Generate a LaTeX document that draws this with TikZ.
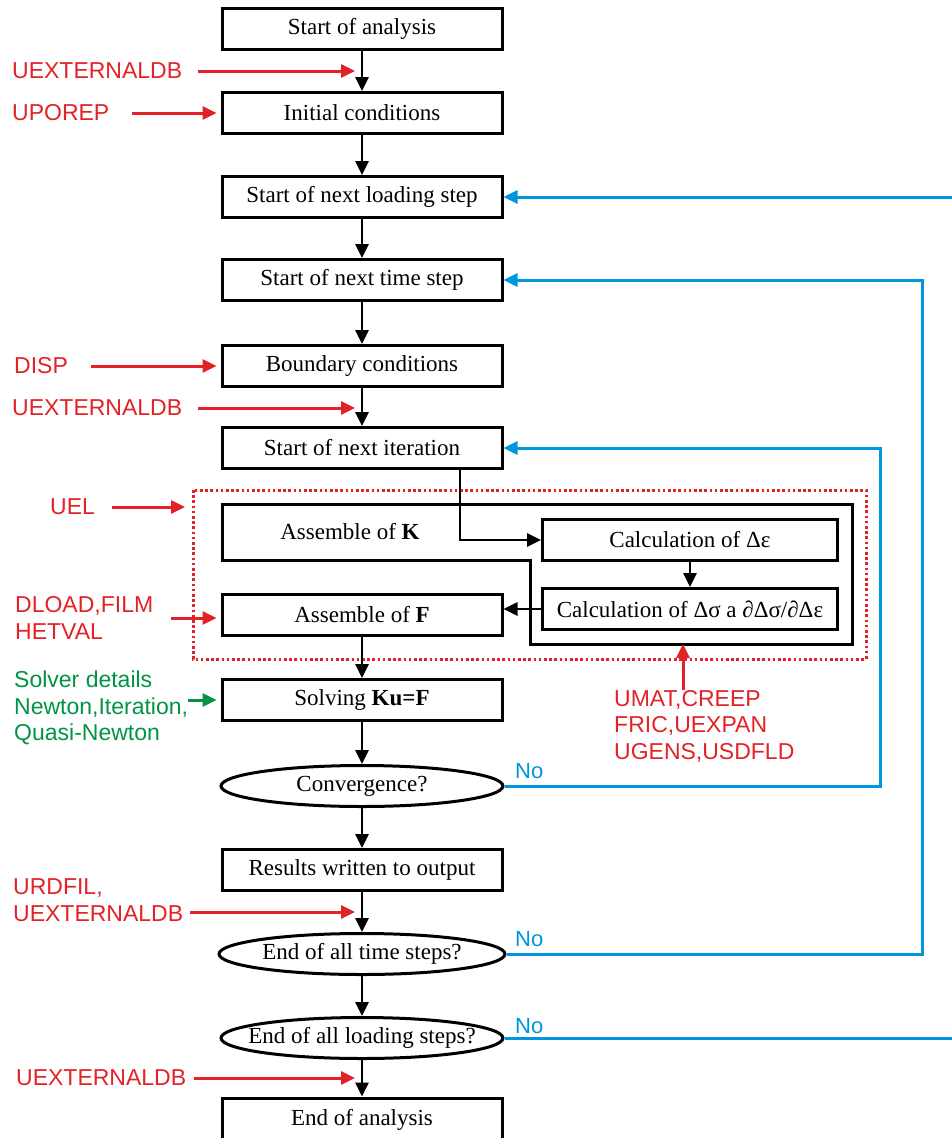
\documentclass[tikz,border=0pt]{standalone}
\usepackage{fontspec}
\setmainfont{Liberation Serif}
\setsansfont{Liberation Sans}
\usetikzlibrary{positioning, shapes.geometric, arrows.meta, calc}

\definecolor{hookred}{RGB}{226,34,38}
\definecolor{loopblue}{RGB}{0,150,221}
\definecolor{solvgreen}{RGB}{0,148,68}

\newcommand{\boxfont}{\fontsize{23}{26}\selectfont}
\newcommand{\hookfont}{\sffamily\fontsize{23}{26.5}\selectfont}

\tikzset{
  stepbox/.style={draw, line width=3pt, minimum width=280pt, minimum height=41pt, inner sep=0pt},
  calcbox/.style={stepbox, minimum width=295pt},
  decision/.style={ellipse, draw, line width=3pt, minimum width=282pt, minimum height=41pt, inner sep=0pt},
  flow/.style={draw, line width=2.6pt, -{Triangle[length=14pt,width=13pt]}},
  hook/.style={text=hookred, font=\hookfont, anchor=west, align=left, inner sep=0pt},
  hookarrow/.style={draw=hookred, line width=3pt, -{Triangle[length=14pt,width=13pt]}},
  greenarrow/.style={hookarrow, draw=solvgreen},
  backflow/.style={draw=loopblue, line width=3pt, -{Triangle[length=14pt,width=13pt]}},
  nolabel/.style={text=loopblue, font=\sffamily\fontsize{22}{24}\selectfont, anchor=west, inner sep=0pt},
  userframe/.style={draw=hookred, line width=3pt, dash pattern=on 2.6pt off 2.6pt}
}

\begin{document}
\begin{tikzpicture}[x=1pt, y=-1pt, font=\boxfont]
  \useasboundingbox (0,0) rectangle (952,1138);

  % main column
  \node (sa) [stepbox] at (362,29) {Start of analysis};
  \node (ic) [stepbox] at (362,113) {Initial conditions};
  \node (nls) [stepbox] at (362,197) {Start of next loading step};
  \node (nts) [stepbox] at (362,280) {Start of next time step};
  \node (bc) [stepbox] at (362,366) {Boundary conditions};
  \node (nit) [stepbox] at (362,448) {Start of next iteration};
  \node (ak) at (350,532) {Assemble of \textbf{K}};
  \node (cde) [calcbox] at (690,540) {Calculation of Δε};
  \node (cds) [calcbox] at (690,609) {Calculation of Δσ a ∂Δσ/∂Δε};
  \node (af) [stepbox] at (362,615) {Assemble of \textbf{F}};
  \node (sol) [stepbox] at (362,700) {Solving \textbf{Ku=F}};
  \node (conv) [decision, label={[name=convt]center:Convergence?}] at (362,786) {};
  \node (res) [stepbox] at (362,870) {Results written to output};
  \node (ets) [decision, minimum width=286pt, label={[name=etst]center:End of all time steps?}] at (362,954) {};
  \node (els) [decision, label={[name=elst]center:End of all loading steps?}] at (362,1038) {};
  \node (ea) [stepbox, minimum height=44pt] at (362,1120) {End of analysis};

  % element box and user routine frame
  \draw[line width=3pt] (222,504) -- (852,504) -- (852,644) -- (530,644) -- (530,560) -- (222,560) -- cycle;
  \coordinate (kfoot) at (683,644);
  \coordinate (frl) at (193,490);
  \draw[userframe] (frl) rectangle (866,659);

  \begin{scope}[flow]
    \path (sa) edge (ic);
    \path (ic) edge (nls);
    \path (nls) edge (nts);
    \path (nts) edge (bc);
    \path (bc) edge (nit);
    \path (cde) edge (cds);
    \path (af) edge (sol);
    \path (sol) edge (conv);
    \path (conv) edge (res);
    \path (res) edge (ets);
    \path (ets) edge (els);
    \path (els) edge (ea);
    \draw ([xshift=98pt]nit.south) |- (cde.west);
    \draw (cds.west) -- (cds.west -| af.east);
  \end{scope}

  % user subroutines
  \node (ux1) [hook] at (12,71) {UEXTERNALDB};
  \node (upo) [hook] at (12,113) {UPOREP};
  \node (disp) [hook] at (14,366) {DISP};
  \node (ux2) [hook] at (12,408) {UEXTERNALDB};
  \node (uel) [hook] at (50,507) {UEL};
  \node (dload) [hook] at (15,618) {DLOAD,FILM\\HETVAL};
  \node (solv) [hook, text=solvgreen] at (14,708) {Solver details\\Newton,Iteration,\\Quasi-Newton};
  \node (umat) [hook] at (614,726) {UMAT,CREEP\\FRIC,UEXPAN\\UGENS,USDFLD};
  \node (urd) [hook] at (13,900) {URDFIL,\\UEXTERNALDB};
  \node (ux3) [hook] at (16,1078) {UEXTERNALDB};

  \coordinate (j4) at ($(res.south)!.5!(ets.north)$);

  \draw[hookarrow, shorten >=7pt] ([xshift=16pt]ux1.east) -- (ux1 -| sa);
  \draw[hookarrow, shorten >=4pt] ([xshift=22pt]upo.east) -- (ic.west);
  \draw[hookarrow, shorten >=4pt] ([xshift=23pt]disp.east) -- (bc.west);
  \draw[hookarrow, shorten >=7pt] ([xshift=16pt]ux2.east) -- (ux2 -| bc);
  \draw[hookarrow, shorten >=8pt] ([xshift=17pt]uel.east) -- (uel -| frl);
  \draw[hookarrow, shorten >=4pt] ([xshift=18pt]dload.east) -- (dload.east -| af.west);
  \draw[greenarrow, shorten >=4pt] (solv.east |- sol.west) -- (sol.west);
  \draw[hookarrow] (umat.north -| kfoot) -- (kfoot);
  \draw[hookarrow, shorten >=7pt] (urd.east |- j4) ++(7,0) -- (j4);
  \draw[hookarrow, shorten >=7pt] ([xshift=8pt]ux3.east) -- (ux3 -| ea);

  % loops back
  \coordinate (r1) at (880,0);
  \coordinate (r2) at (922,0);
  \coordinate (r3) at (972,0);
  \draw[backflow] (conv.east) -- (conv.east -| r1) |- (nit.east);
  \draw[backflow] (ets.east) -- (ets.east -| r2) |- (nts.east);
  \draw[backflow] (els.east) -- (els.east -| r3) |- (nls.east);
  \node (no1) [nolabel] at (515,771) {No};
  \node (no2) [nolabel] at (515,939) {No};
  \node (no3) [nolabel] at (515,1026) {No};
\end{tikzpicture}
\end{document}
